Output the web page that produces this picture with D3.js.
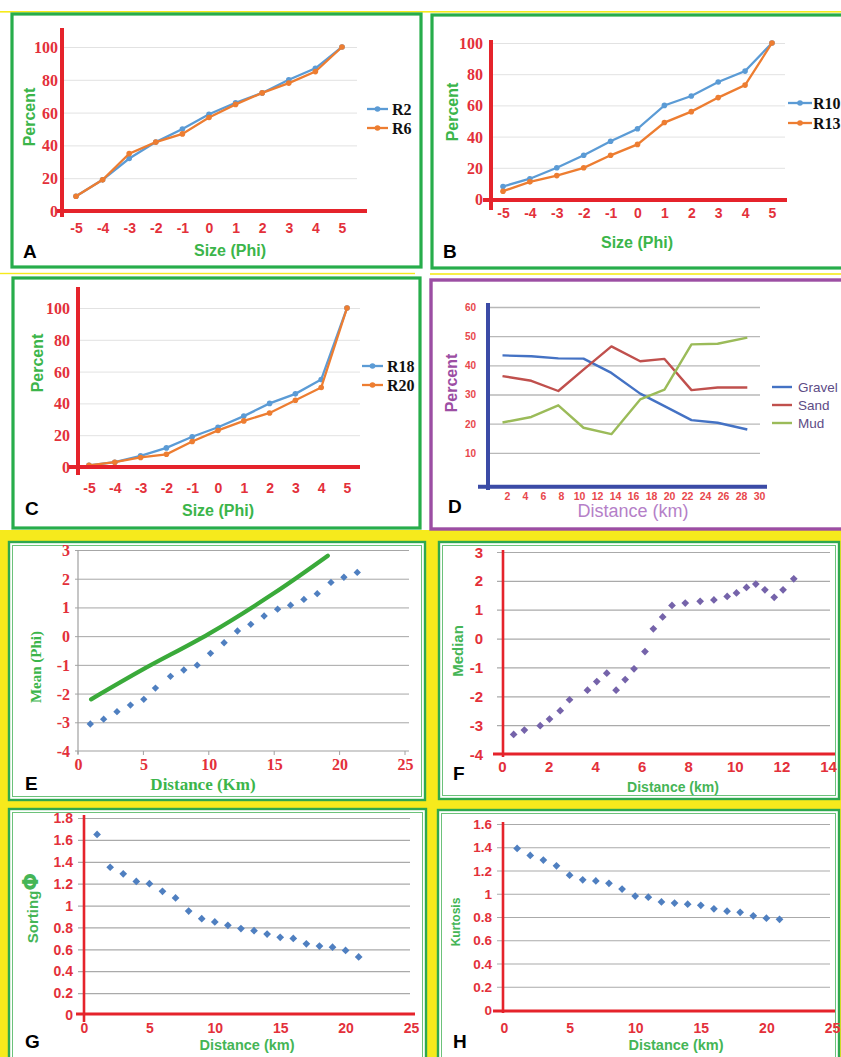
<!DOCTYPE html>
<html><head><meta charset="utf-8">
<script src="https://cdn.jsdelivr.net/npm/d3@7"></script>
<style>body{margin:0;background:#fff}svg{display:block}</style>
</head><body>
<svg id="fig" width="841" height="1057"></svg>
<script>
// ---------------- DATA ----------------
const phiSizes = [-5,-4,-3,-2,-1,0,1,2,3,4,5];
const percentTicks = [0,20,40,60,80,100];
const R2  = [9,19,32,42,50,59,66,72,80,87,100];
const R6  = [9,19,35,42,47,57,65,72,78,85,100];
const R10 = [8,13,20,28,37,45,60,66,75,82,100];
const R13 = [5,11,15,20,28,35,49,56,65,73,100];
const R18 = [1,3,7,12,19,25,32,40,46,55,100];
const R20 = [1,3,6,8,16,23,29,34,42,50,100];

const distD   = [1.5,4.7,7.7,10.5,13.6,16.8,19.5,22.5,25.4,28.7];
const gravel  = [43.4,43.1,42.4,42.3,37.4,30.3,26.0,21.2,20.3,18.0];
const sand    = [36.3,34.7,31.2,38.5,46.5,41.4,42.2,31.5,32.4,32.4];
const mud     = [20.4,22.3,26.3,18.6,16.4,28.3,31.7,47.2,47.4,49.5];
const dTicksY = [10,20,30,40,50,60];
const dTicksX = [2,4,6,8,10,12,14,16,18,20,22,24,26,28,30];

const distE  = [0.94,1.96,2.98,4.01,5.03,5.92,7.07,8.09,9.11,10.13,11.17,12.19,13.21,14.23,15.26,16.25,17.27,18.29,19.34,20.33,21.35];
const meanPhi = [-3.06,-2.89,-2.63,-2.40,-2.20,-1.81,-1.40,-1.18,-1.01,-0.60,-0.23,0.18,0.41,0.70,0.94,1.08,1.28,1.48,1.87,2.05,2.22];
const trendX = [1,5,10,15,19.1];
const trendY = [-2.2,-1.15,0.08,1.5,2.8];

const distF  = [0.5,0.96,1.64,2.04,2.5,2.9,3.67,4.07,4.5,4.9,5.29,5.67,6.14,6.5,6.9,7.3,7.87,8.51,9.1,9.67,10.07,10.5,10.9,11.29,11.69,12.07,12.53];
const median = [-3.32,-3.17,-3.02,-2.79,-2.50,-2.12,-1.79,-1.49,-1.20,-1.79,-1.42,-1.05,-0.45,0.34,0.75,1.15,1.23,1.29,1.34,1.46,1.58,1.77,1.89,1.69,1.43,1.69,2.07];

const distGH  = [1,2,3,4,5,6,7,8,9,10,11,12,13,14,15,16,17,18,19,20,21];
const sorting = [1.65,1.35,1.29,1.22,1.20,1.13,1.07,0.95,0.88,0.85,0.82,0.79,0.77,0.74,0.71,0.70,0.65,0.63,0.62,0.59,0.53];
const kurtosis = [1.39,1.33,1.29,1.24,1.16,1.12,1.11,1.09,1.04,0.98,0.97,0.93,0.92,0.91,0.90,0.87,0.85,0.84,0.81,0.79,0.78];
const meanTicks = [-4,-3,-2,-1,0,1,2,3];
const distTicks25 = [0,5,10,15,20,25];
const distTicks14 = [0,2,4,6,8,10,12,14];
const sortTicks = [0,0.2,0.4,0.6,0.8,1,1.2,1.4,1.6,1.8];
const kurtTicks = [0,0.2,0.4,0.6,0.8,1,1.2,1.4,1.6];

// ---------------- STYLE ----------------
const svg = d3.select('#fig');
const RED = '#e5232b', TRED = '#e3303a', GREEN = '#3bb54a', YEL = '#f6ea1c', BOX = '#27ad4b';
const BLUE = '#5b9bd5', ORANGE = '#ed7d31';
const SANS = 'Liberation Sans, Arial, sans-serif', SERIF = 'Liberation Serif, Times New Roman, serif';
const plain = d => String(d);

function txt(x, y, s, o) {
  const t = svg.append('text').attr('x', x).attr('y', y).text(s)
    .attr('font-family', o.ff || SANS).attr('font-size', o.fs)
    .attr('font-weight', o.fw || 'bold').attr('fill', o.fill || '#000')
    .attr('text-anchor', o.anchor || 'start');
  if (o.rot) t.attr('transform', `rotate(-90,${x},${y})`);
  return t;
}
function hline(x1, x2, y, c, w) {
  svg.append('line').attr('x1', x1).attr('x2', x2).attr('y1', y).attr('y2', y).attr('stroke', c).attr('stroke-width', w);
}
function vline(x, y1, y2, c, w) {
  svg.append('line').attr('x1', x).attr('x2', x).attr('y1', y1).attr('y2', y2).attr('stroke', c).attr('stroke-width', w);
}
function leftLabels(scale, ticks, x, o) {
  const g = svg.append('g').attr('transform', `translate(${x},0)`)
    .call(d3.axisLeft(scale).tickValues(ticks).tickSize(0).tickPadding(0).tickFormat(plain));
  g.select('.domain').remove();
  g.selectAll('text').attr('font-family', o.ff || SANS).attr('font-size', o.fs)
    .attr('font-weight', 'bold').attr('fill', o.fill || TRED).attr('dy', '0.34em');
  return g;
}
function bottomLabels(scale, ticks, y, o) {
  const g = svg.append('g').attr('transform', `translate(0,${y})`)
    .call(d3.axisBottom(scale).tickValues(ticks).tickSize(0).tickPadding(0).tickFormat(plain));
  g.select('.domain').remove();
  g.selectAll('text').attr('font-family', o.ff || SANS).attr('font-size', o.fs)
    .attr('font-weight', 'bold').attr('fill', o.fill || TRED).attr('y', 0).attr('dy', null);
  return g;
}
function grid(scale, ticks, x1, x2, c, w) {
  const g = svg.append('g').attr('transform', `translate(${x1},0)`)
    .call(d3.axisLeft(scale).tickValues(ticks).tickSize(-(x2 - x1)).tickFormat(''));
  g.select('.domain').remove();
  g.selectAll('line').attr('stroke', c).attr('stroke-width', w);
}

// ---------------- BACKGROUND ----------------
svg.append('rect').attr('width', 841).attr('height', 1057).attr('fill', '#fff');
svg.append('rect').attr('x', 0).attr('y', 11).attr('width', 841).attr('height', 1.6).attr('fill', YEL);
svg.append('rect').attr('x', 0).attr('y', 272.8).attr('width', 415).attr('height', 1.4).attr('fill', YEL);
svg.append('rect').attr('x', 430).attr('y', 273.2).attr('width', 411).attr('height', 1.6).attr('fill', YEL);
svg.append('rect').attr('x', 0).attr('y', 530).attr('width', 841).attr('height', 527).attr('fill', YEL);

function box(x, y, w, h, c, sw) {
  svg.append('rect').attr('x', x).attr('y', y).attr('width', w).attr('height', h)
    .attr('fill', '#fff').attr('stroke', c).attr('stroke-width', sw);
}
function dbox(x, y, w, h) {
  box(x, y, w, h, '#2fa84f', 2.4);
  svg.append('rect').attr('x', x + 3.5).attr('y', y + 3.5).attr('width', w - 7).attr('height', h - 7)
    .attr('fill', 'none').attr('stroke', '#6cc27a').attr('stroke-width', 1);
}
box(12, 14, 409, 253, BOX, 3.2);
box(432, 15, 420, 253, BOX, 3.2);
box(13, 278, 407, 250, BOX, 3.2);
box(431, 280, 420, 249, '#9c4ea3', 3.4);
dbox(9, 542, 416, 258);
dbox(439, 542, 400, 257);
dbox(9, 809, 417, 260);
dbox(438, 810, 401, 260);

// ---------------- PANELS A,B,C ----------------
const ABC = [
  {id:'A', names:['R2','R6'], vals:[R2,R6], xr:[76,342], yr:[211,47], axX:62, axYt:28, axYb:217, axY:211, axXl:57, axXr:367, gridR:357, ylabX:58, xlabY:233, title:[230,256], pt:[35,117], letter:[23,258], leg:{x1:367,x2:388,tx:392,y:[109,128]}},
  {id:'B', names:['R10','R13'], vals:[R10,R13], xr:[503,772], yr:[199,43], axX:491, axYt:40, axYb:210, axY:200, axXl:483, axXr:787, gridR:785, ylabX:483, xlabY:218, title:[637,248], pt:[458,112], letter:[443,258], leg:{x1:788,x2:812,tx:813,y:[103,123]}},
  {id:'C', names:['R18','R20'], vals:[R18,R20], xr:[89,347], yr:[467,308], axX:78, axYt:287, axYb:475, axY:467, axXl:68, axXr:360, gridR:360, ylabX:70, xlabY:493, title:[218,516], pt:[43,363], letter:[25,515], leg:{x1:362,x2:383,tx:387,y:[366,385]}}
];
const colorsABC = [BLUE, ORANGE];
ABC.forEach(p => {
  const x = d3.scaleLinear().domain([-5,5]).range(p.xr);
  const y = d3.scaleLinear().domain([0,100]).range(p.yr);
  grid(y, percentTicks.slice(1), p.axX, p.gridR, '#e2e2e2', 1);
  p.vals.forEach((vals, i) => {
    const pts = phiSizes.map((d, j) => [d, vals[j]]);
    svg.append('path').datum(pts).attr('fill', 'none').attr('stroke', colorsABC[i]).attr('stroke-width', 2.3)
      .attr('d', d3.line().x(d => x(d[0])).y(d => y(d[1])));
    svg.append('g').selectAll('circle').data(pts).join('circle')
      .attr('cx', d => x(d[0])).attr('cy', d => y(d[1])).attr('r', 2.8).attr('fill', colorsABC[i]);
  });
  vline(p.axX, p.axYt, p.axYb, RED, 4);
  hline(p.axXl, p.axXr, p.axY, RED, 4);
  leftLabels(y, percentTicks, p.ylabX, {ff: SERIF, fs: 16});
  bottomLabels(x, phiSizes, p.xlabY, {fs: 14});
  txt(p.title[0], p.title[1], 'Size (Phi)', {fs: 16, fill: GREEN, anchor: 'middle'});
  txt(p.pt[0], p.pt[1], 'Percent', {fs: 16, fill: GREEN, anchor: 'middle', rot: true});
  txt(p.letter[0], p.letter[1], p.id, {fs: 19, fill: '#000'});
  p.names.forEach((n, i) => {
    const ly = p.leg.y[i];
    hline(p.leg.x1, p.leg.x2, ly, colorsABC[i], 2.3);
    svg.append('circle').attr('cx', (p.leg.x1 + p.leg.x2) / 2).attr('cy', ly).attr('r', 2.8).attr('fill', colorsABC[i]);
    txt(p.leg.tx, ly + 5.5, n, {ff: SERIF, fs: 16, fill: '#111'});
  });
});

// ---------------- PANEL D ----------------
{
  const x = d3.scaleLinear().domain([0,30]).range([489,759]);
  const y = d3.scaleLinear().domain([0,60]).range([482,307]);
  grid(y, dTicksY, 488, 760, '#b8b8b8', 1.3);
  const series = [['Gravel', gravel, '#4472c4'], ['Sand', sand, '#c0504d'], ['Mud', mud, '#9bbb59']];
  series.forEach(([n, vals, c]) => {
    svg.append('path').datum(distD.map((d, i) => [d, vals[i]])).attr('fill', 'none')
      .attr('stroke', c).attr('stroke-width', 2.4).attr('stroke-linejoin', 'round')
      .attr('d', d3.line().x(d => x(d[0])).y(d => y(d[1])));
  });
  const axc = '#3b4ba6';
  vline(488, 303, 490, axc, 4);
  hline(478, 767, y(-1.6), axc, 4);
  leftLabels(y, dTicksY, 476, {fs: 10, fill: '#e8474c'});
  bottomLabels(x, dTicksX, 500, {fs: 10.5, fill: '#e8474c'});
  txt(633, 517, 'Distance (km)', {fs: 18, fw: 'normal', fill: '#b57fc8', anchor: 'middle'});
  txt(457, 383, 'Percent', {fs: 16, fill: '#9c4ea3', anchor: 'middle', rot: true});
  txt(448, 513, 'D', {fs: 19, fill: '#000'});
  series.forEach(([n, vals, c], i) => {
    const ly = 387 + i * 18;
    hline(772, 792, ly, c, 2.4);
    txt(798, ly + 4.8, n, {fs: 13.5, fw: 'normal', fill: '#5d4c86'});
  });
}

// ---------------- SCATTER PANELS ----------------
function diamonds(xs, ys, x, y, c, size) {
  svg.append('g').selectAll('path').data(xs.map((d, i) => [d, ys[i]])).join('path')
    .attr('d', d3.symbol(d3.symbolSquare, size))
    .attr('transform', d => `translate(${x(d[0])},${y(d[1])}) rotate(45)`)
    .attr('fill', c);
}

// E
{
  const x = d3.scaleLinear().domain([0,25]).range([78,405]);
  const y = d3.scaleLinear().domain([-4,3]).range([751,550]);
  grid(y, meanTicks.slice(1), 75, 409, '#a6a6a6', 1);
  vline(78, 550, 754, '#a0a0a0', 1.2);
  hline(75, 409, 751, '#a0a0a0', 1.2);
  svg.append('g').selectAll('line').data(distTicks25).join('line')
    .attr('x1', d => x(d)).attr('x2', d => x(d)).attr('y1', 751).attr('y2', 755).attr('stroke', '#a0a0a0');
  svg.append('path').datum(trendX.map((d, i) => [d, trendY[i]])).attr('fill', 'none')
    .attr('stroke', '#3aaa3a').attr('stroke-width', 4.2).attr('stroke-linecap', 'round')
    .attr('d', d3.line().curve(d3.curveCatmullRom).x(d => x(d[0])).y(d => y(d[1])));
  diamonds(distE, meanPhi, x, y, '#4f7fc0', 27);
  leftLabels(y, meanTicks, 70, {ff: SERIF, fs: 16});
  bottomLabels(x, distTicks25, 770, {ff: SERIF, fs: 16});
  txt(203, 790, 'Distance (Km)', {ff: SERIF, fs: 17, fill: GREEN, anchor: 'middle'});
  txt(41, 667, 'Mean (Phi)', {ff: SERIF, fs: 15, fill: GREEN, anchor: 'middle', rot: true});
  txt(25, 790, 'E', {fs: 19, fill: '#000'});
}

// F
{
  const x = d3.scaleLinear().domain([0,14]).range([502,828]);
  const y = d3.scaleLinear().domain([-4,3]).range([754,552]);
  grid(y, meanTicks.slice(1), 497, 830, '#aaaaaa', 1.2);
  vline(503, 550, 757, RED, 2.6);
  hline(493, 835, 754, RED, 3);
  diamonds(distF, median, x, y, '#7563aa', 30);
  leftLabels(y, meanTicks, 483, {fs: 15});
  bottomLabels(x, distTicks14, 772, {fs: 15});
  txt(673, 792, 'Distance (km)', {fs: 14, fill: '#45b556', anchor: 'middle'});
  txt(463, 651, 'Median', {fs: 15, fill: '#45b556', anchor: 'middle', rot: true});
  txt(453, 780, 'F', {fs: 19, fill: '#000'});
}

// G
{
  const x = d3.scaleLinear().domain([0,25]).range([84,411]);
  const y = d3.scaleLinear().domain([0,1.8]).range([1015,818]);
  grid(y, sortTicks.slice(1), 78, 410, '#aaaaaa', 1.2);
  vline(84, 815, 1022, RED, 2.6);
  hline(76, 415, 1014, RED, 3);
  diamonds(distGH, sorting, x, y, '#4f7fc0', 30);
  leftLabels(y, sortTicks, 73, {fs: 14});
  bottomLabels(x, distTicks25, 1033, {fs: 14});
  txt(247, 1050, 'Distance (km)', {fs: 14.5, fill: '#45b556', anchor: 'middle'});
  const t = txt(38, 908, 'Sorting', {fs: 15, fill: '#45b556', anchor: 'middle', rot: true});
  t.append('tspan').attr('font-size', 21).attr('font-family', 'DejaVu Sans, sans-serif').text('Φ');
  txt(25, 1048, 'G', {fs: 19, fill: '#000'});
}

// H
{
  const x = d3.scaleLinear().domain([0,25]).range([504,832]);
  const y = d3.scaleLinear().domain([0,1.6]).range([1010,824]);
  grid(y, kurtTicks.slice(1), 497, 830, '#aaaaaa', 1.2);
  vline(503, 822, 1013, RED, 2.6);
  hline(493, 835, 1011, RED, 3);
  diamonds(distGH, kurtosis, x, y, '#4f7fc0', 30);
  leftLabels(y, kurtTicks, 492, {fs: 13.5});
  bottomLabels(x, distTicks25, 1033, {fs: 14});
  txt(676, 1050, 'Distance (km)', {fs: 14.5, fill: '#45b556', anchor: 'middle'});
  txt(460, 922, 'Kurtosis', {fs: 12, fill: '#45b556', anchor: 'middle', rot: true});
  txt(453, 1048, 'H', {fs: 19, fill: '#000'});
}
</script>
</body></html>
